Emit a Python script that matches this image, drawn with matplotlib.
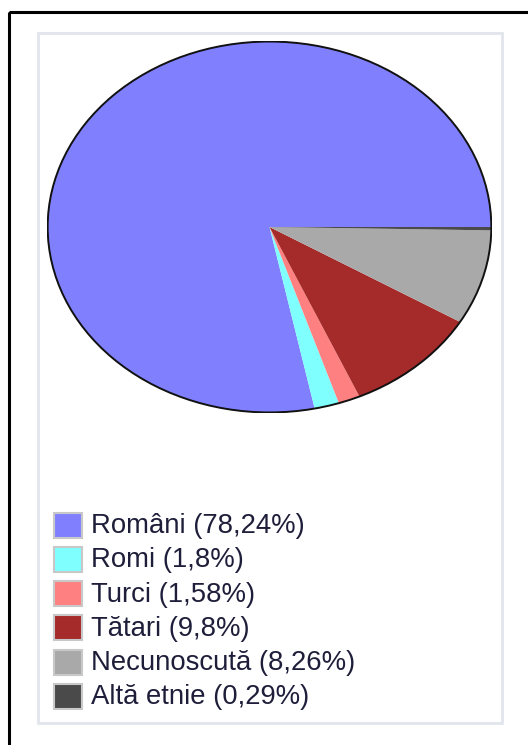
import matplotlib
matplotlib.use("Agg")
import matplotlib.pyplot as plt
from matplotlib.patches import Rectangle, Circle

labels = ["Români", "Romi", "Turci", "Tătari", "Necunoscută", "Altă etnie"]
label_pcts = ["78,24%", "1,8%", "1,58%", "9,8%", "8,26%", "0,29%"]
values = [78.24, 1.8, 1.58, 9.8, 8.26, 0.29]
colors = ["#8080FF", "#80FFFF", "#FF8080", "#A52A2A", "#A9A9A9", "#4A4A4A"]

W, H = 528, 745
fig = plt.figure(figsize=(W / 100, H / 100), dpi=100)
fig.patch.set_facecolor("white")

# background overlay axes in pixel coords
bg = fig.add_axes([0, 0, 1, 1])
bg.set_xlim(0, W)
bg.set_ylim(H, 0)
bg.axis("off")
bg.add_patch(Rectangle((9, 12), 530, 740, fill=False, edgecolor="black", linewidth=2.2))
bg.add_patch(Rectangle((37.5, 32.5), 464, 690, fill=False, edgecolor="#E2E5EC", linewidth=2))

# pie axes (stretched to an ellipse)
px0, px1, py0, py1 = 47, 492, 41, 413
ax = fig.add_axes([px0 / W, 1 - py1 / H, (px1 - px0) / W, (py1 - py0) / H])
ax.pie(values, colors=colors, startangle=0, counterclock=True,
       wedgeprops=dict(linewidth=0, antialiased=True))
ax.add_patch(Circle((0, 0), 1, fill=False, edgecolor="#111111", linewidth=1.4))
ax.set_aspect("auto")
ax.set_xlim(-1.003, 1.003)
ax.set_ylim(-1.003, 1.003)
ax.axis("off")

# legend drawn in pixel coords
row0, step = 525, 34.3
for i, (lab, pct, col) in enumerate(zip(labels, label_pcts, colors)):
    yc = row0 + i * step
    bg.add_patch(Rectangle((53.5, yc - 12.5), 28, 25, facecolor=col,
                           edgecolor="#C8C8C8", linewidth=1.5))
    bg.text(91, yc + 1, f"{lab} ({pct})", fontsize=19.8, color="#1E1E3A",
            va="center", ha="left", family=["Liberation Sans", "DejaVu Sans"])

fig.savefig("out.png", dpi=100, facecolor="white")
